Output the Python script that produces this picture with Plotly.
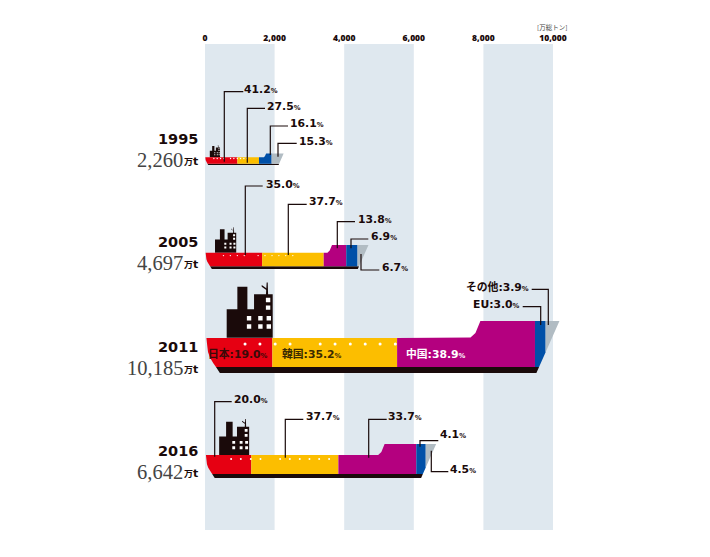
import plotly.graph_objects as go

# ---------- data ----------
YEARS = ["1995", "2005", "2011", "2016"]
TOTALS = [2260, 4697, 10185, 6642]
TOTAL_LABELS = ["2,260", "4,697", "10,185", "6,642"]
JAPAN = [41.2, 35.0, 19.0, 20.0]
KOREA = [27.5, 37.7, 35.2, 37.7]
CHINA = [0.0, 13.8, 38.9, 33.7]
EU = [16.1, 6.9, 3.0, 4.1]
OTHER = [15.3, 6.7, 3.9, 4.5]
TICKS = [0, 2000, 4000, 6000, 8000, 10000]
BANDS = [(0, 2000), (4000, 6000), (8000, 10000)]

# ---------- layout / style ----------
W, H = 710, 557
PX0, PX_PER = 205.0, 0.0348
TOP, BOTTOM = 44, 530
BASELINES = [165, 269, 373, 478]
YEAR_Y = [139, 242, 347, 451]
VALUE_Y = [161, 264, 369, 473]
COLORS = {"Japan": "#e60012", "Korea": "#fcbe00", "China": "#b4007f", "EU": "#0050a8", "Other": "#b1bcc3"}
BLACK = "#1a0a0a"
BAND = "#dfe8ef"
SANS = "DejaVu Sans"
TICKFONT = "Open Sans"
SERIF = "Liberation Serif"


def vx(px):
    return (px - PX0) / PX_PER


# Ship outline in fractions of ship length (u along, z above keel)
HULL = [(.031, .017), (.023, .028), (.014, .044), (.0085, .059), (.006, .08), (.004, .099),
        (.735, .099), (.749, .1), (.763, .113), (.777, .147), (1, .147), (.9425, .017)]
KEEL = [(.031, .017), (.9425, .017), (.935, 0), (.042, 0)]
TOWER = [(.0612, .0998), (.0612, .18), (.0913, .18), (.0913, .243), (.1196, .243), (.1196, .18),
         (.1384, .18), (.1384, .222), (.1667, .222), (.172, .222), (.174, .255), (.177, .255),
         (.178, .222), (.191, .222), (.191, .0998)]
MAST = [(.16, .243), (.175, .233), (.175, .238), (.16, .248)]
WINDOWS = [(.1243, .1544), (.1563, .1544), (.18, .1544), (.1243, .131), (.1563, .131), (.18, .131),
           (.178, .206), (.178, .1845)]
WIN = .0062
DOTS = [.113, .155, .198, .24, .325, .367, .41, .452, .494, .537]
DOT_Z = .082


def clip_side(poly, lim, keep_gt):
    out = []
    n = len(poly)
    for i in range(n):
        p, q = poly[i], poly[(i + 1) % n]
        pin = p[0] >= lim if keep_gt else p[0] <= lim
        qin = q[0] >= lim if keep_gt else q[0] <= lim
        if pin:
            out.append(p)
        if pin != qin:
            t = (lim - p[0]) / (q[0] - p[0])
            out.append((lim, p[1] + t * (q[1] - p[1])))
    return out


def clip(poly, a, b):
    return clip_side(clip_side(poly, a, True), b, False)


def placed(poly, total, base):
    L = total * PX_PER
    xs = [u * total for u, z in poly] + [poly[0][0] * total, None]
    ys = [base - z * L for u, z in poly] + [base - poly[0][1] * L, None]
    return xs, ys


fig = go.Figure()


def add_poly(name, color, xs, ys):
    fig.add_trace(go.Scatter(x=xs, y=ys, mode="lines", fill="toself", fillcolor=color,
                             line=dict(width=0, color=color), name=name, hoverinfo="skip"))


# keel and superstructure
for name, shape, col in [("keel", KEEL, BLACK), ("tower", TOWER, BLACK), ("mast", MAST, BLACK)]:
    X, Y = [], []
    for total, base in zip(TOTALS, BASELINES):
        a, b = placed(shape, total, base)
        X += a
        Y += b
    add_poly(name, col, X, Y)

X, Y = [], []
for total, base in zip(TOTALS, BASELINES):
    for (u, z) in WINDOWS:
        a, b = placed([(u - WIN, z - WIN), (u + WIN, z - WIN), (u + WIN, z + WIN), (u - WIN, z + WIN)], total, base)
        X += a
        Y += b
add_poly("windows", "#ffffff", X, Y)

# coloured hull segments, one trace per region
series = [("Japan", JAPAN), ("Korea", KOREA), ("China", CHINA), ("EU", EU), ("Other", OTHER)]
X_by = {k: [] for k, _ in series}
Y_by = {k: [] for k, _ in series}
for i, (total, base) in enumerate(zip(TOTALS, BASELINES)):
    vals = [s[i] for _, s in series]
    tot = sum(vals)
    cum = 0.0
    for (name, _), v in zip(series, vals):
        if v > 0:
            poly = clip(HULL, cum / tot, (cum + v) / tot)
            a, b = placed(poly, total, base)
            X_by[name] += a
            Y_by[name] += b
        cum += v
for name, _ in series:
    add_poly(name, COLORS[name], X_by[name], Y_by[name])

# portholes
for total, base in zip(TOTALS, BASELINES):
    L = total * PX_PER
    fig.add_trace(go.Scatter(x=[u * total for u in DOTS], y=[base - DOT_Z * L] * len(DOTS), mode="markers",
                             marker=dict(color="#ffffff", size=max(1.4, L * 0.0085)), hoverinfo="skip",
                             name="dots"))

# ---------- leaders and labels ----------
# (value, vertical x, start y, elbow y, end x, text x, text y)
LEADERS = [
    (JAPAN[0], 224.3, 161.7, 91.7, 243.3, 244.3, 89),
    (KOREA[0], 247.3, 162.7, 108.3, 265, 267, 106),
    (EU[0], 270.3, 155, 126, 288, 290, 123.5),
    (OTHER[0], 278, 156.7, 143.3, 296.7, 299, 141),
    (JAPAN[1], 245.3, 255, 186, 262.7, 265.7, 184),
    (KOREA[1], 288.3, 255, 204.3, 306.7, 309.3, 201.5),
    (CHINA[1], 337.3, 248.3, 221.7, 355, 358, 219),
    (EU[1], 351, 248.3, 239, 368.3, 371.3, 236),
    (OTHER[1], 361, 254, 270, 379.3, 381.7, 267.5),
    (JAPAN[3], 214.7, 456.7, 401.7, 231.7, 234.3, 399),
    (KOREA[3], 285.3, 457.7, 419.3, 303.3, 305.7, 416.7),
    (CHINA[3], 368.7, 457.7, 419.3, 386.7, 388.3, 416.7),
    (EU[3], 420, 446.7, 440.7, 438.3, 440, 434),
    (OTHER[3], 431.3, 450.7, 471.7, 448.3, 450.3, 469),
]
LX, LY = [], []
anns = []


def pct(v, small=6.8):
    return f"{v:.1f}<span style='font-size:{small}px'>%</span>"


def text(px, py, s, size=10.8, color=BLACK, anchor="left", family=SANS, weight=700, yref="y"):
    y = py if yref == "y" else (BOTTOM - py) / (BOTTOM - TOP)
    anns.append(dict(x=vx(px), y=y, xref="x", yref=yref, text=s, showarrow=False, xanchor=anchor, yanchor="middle",
                     font=dict(family=family, size=size, color=color, weight=weight),
                     borderpad=0, borderwidth=0))


for v, x0, y0, y1, x1, tx, ty in LEADERS:
    LX += [vx(x0), vx(x0), vx(x1), None]
    LY += [y0, y1, y1, None]
    text(tx, ty, pct(v))

# 2011 labels
CJK = f"{SANS}, Noto Sans CJK JP"
LX += [vx(531.7), vx(548.3), vx(548.3), None, vx(522.7), vx(540.7), vx(540.7), None]
LY += [289.3, 289.3, 325, None, 306.7, 306.7, 325, None]
text(528.7, 286.7, f"その他:{pct(OTHER[2])}", size=10.8, anchor="right", family=CJK)
text(520, 304, f"EU:{pct(EU[2])}", size=10.8, anchor="right", family=CJK)
text(208, 354, f"日本:{pct(JAPAN[2])}", size=10.8, color="#3a0a08", family=CJK)
text(281.7, 354, f"韓国:{pct(KOREA[2])}", size=10.8, color="#3a2a00", family=CJK)
text(405.7, 354, f"中国:{pct(CHINA[2])}", size=10.8, color="#ffffff", family=CJK)

fig.add_trace(go.Scatter(x=LX, y=LY, mode="lines", line=dict(color=BLACK, width=1.2), hoverinfo="skip", name="leaders"))

# year and total labels
for yr, tl, y1, y2 in zip(YEARS, TOTAL_LABELS, YEAR_Y, VALUE_Y):
    text(198, y1, yr, size=14.5, anchor="right")
    text(198, y2, "万<span style='font-size:11px'>t</span>", size=9, anchor="right", family=CJK)
    text(183, y2 - 1, tl, size=20.5, anchor="right", family=SERIF, color="#444444", weight=400)

text(567, 27, "[万総トン]", size=6.5, anchor="right", family="Noto Sans CJK JP", weight=400, color="#444444",
     yref="paper")

fig.update_layout(
    width=W, height=H, autosize=False, showlegend=False, paper_bgcolor="#ffffff", plot_bgcolor="#ffffff",
    margin=dict(l=0, r=0, t=TOP, b=H - BOTTOM, pad=0),
    xaxis=dict(range=[vx(0), vx(W)], side="top", tickmode="array", tickvals=TICKS, tickformat=",d",
               tickfont=dict(family=TICKFONT, size=8.5, color=BLACK, weight=800), ticklen=0, showgrid=False,
               zeroline=False, showline=False, ticklabelstandoff=0),
    yaxis=dict(range=[BOTTOM, TOP], visible=False, showgrid=False, zeroline=False),
    shapes=[dict(type="rect", xref="x", yref="y", x0=a, x1=b, y0=TOP, y1=BOTTOM, fillcolor=BAND,
                 line=dict(width=0), layer="below") for a, b in BANDS],
    annotations=anns,
)
fig.write_html("out.html", config={"displayModeBar": False}, post_script="document.body.style.margin='0';")
